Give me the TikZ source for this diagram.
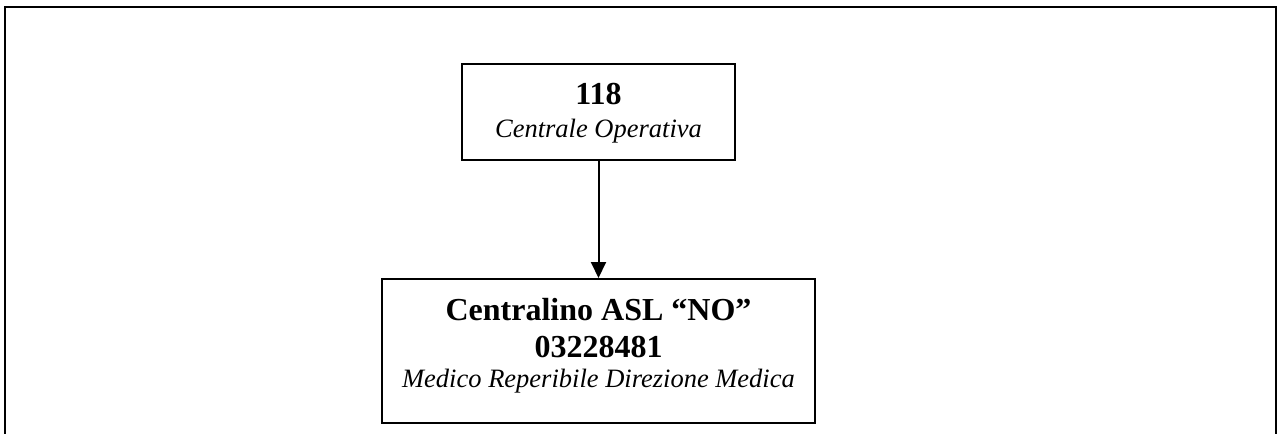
\documentclass[tikz,border=0pt]{standalone}
\usepackage{fontspec}
\setmainfont{Liberation Serif}
\usetikzlibrary{arrows.meta}
\tikzset{
  box/.style={draw=black, line width=2pt, rectangle, inner sep=0pt},
  bigbold/.style={anchor=base, inner sep=0pt, font=\fontsize{32}{38}\selectfont\bfseries},
  smallit/.style={anchor=base, inner sep=0pt, font=\fontsize{26.5}{32}\selectfont\itshape},
  link/.style={draw=black, line width=2pt, -{Triangle[length=16pt,width=15pt]}}
}
\begin{document}
\begin{tikzpicture}[x=1pt,y=-1pt]
\useasboundingbox (0,0) rectangle (1278,434);
\draw[line width=2.5pt] (5,436) -- (5,7) -- (1276,7) -- (1276,436);
\node[box, minimum width=273pt, minimum height=96pt] (top) at (598.5,112) {};
\node[box, minimum width=433pt, minimum height=144pt] (bot) at (598.5,351) {};
\node[bigbold] (t1) at (598.5,104) {118};
\node[smallit] (t2) at (598.5,137) {Centrale Operativa};
\node[bigbold] (b1) at (598.5,320) {Centralino ASL “NO”};
\node[bigbold] (b2) at (598.5,357) {03228481};
\node[smallit] (b3) at (598.5,387) {Medico Reperibile Direzione Medica};
\draw[link] (top.south) -- (bot.north);
\end{tikzpicture}
\end{document}
